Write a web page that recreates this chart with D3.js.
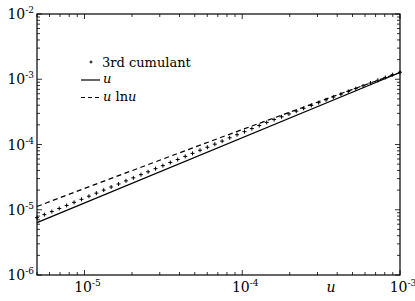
<!doctype html>
<html lang="en">
  <head>
    <meta charset="utf-8">
    <title>cumulant</title>
    <script src="https://d3js.org/d3.v7.min.js"></script>
    <style>
      body { margin: 0; background: white; }
      text { font-family: "DejaVu Serif", "Liberation Serif", serif; fill: black; }
    </style>
  </head>
  <body>
    <svg></svg>
    <script>
      // values
      var uMarks = [5.00e-6, 5.57e-6, 6.21e-6, 6.92e-6, 7.71e-6, 8.59e-6, 9.57e-6, 1.067e-5, 1.189e-5, 1.324e-5,
                    1.476e-5, 1.644e-5, 1.832e-5, 2.04e-5, 2.28e-5, 2.53e-5, 2.82e-5, 3.14e-5, 3.50e-5, 3.90e-5,
                    4.35e-5, 4.84e-5, 5.40e-5, 6.01e-5, 6.70e-5, 7.46e-5, 8.32e-5, 9.27e-5, 1.033e-4, 1.151e-4,
                    1.282e-4, 1.429e-4, 1.592e-4, 1.774e-4, 1.977e-4, 2.20e-4, 2.45e-4, 2.74e-4, 3.05e-4, 3.40e-4,
                    3.78e-4, 4.22e-4, 4.70e-4, 5.24e-4, 5.83e-4, 6.50e-4, 7.24e-4, 8.07e-4, 8.98e-4, 1.0e-3];
      var cumulant3 = [7.56e-6, 8.42e-6, 9.38e-6, 1.046e-5, 1.165e-5, 1.298e-5, 1.446e-5, 1.612e-5, 1.797e-5, 2.00e-5,
                       2.23e-5, 2.48e-5, 2.77e-5, 3.08e-5, 3.45e-5, 3.82e-5, 4.26e-5, 4.74e-5, 5.29e-5, 5.89e-5,
                       6.57e-5, 7.31e-5, 8.16e-5, 9.08e-5, 1.012e-4, 1.127e-4, 1.268e-4, 1.413e-4, 1.574e-4, 1.754e-4,
                       1.954e-4, 2.18e-4, 2.41e-4, 2.66e-4, 2.94e-4, 3.24e-4, 3.58e-4, 3.97e-4, 4.38e-4, 4.84e-4,
                       5.33e-4, 5.90e-4, 6.51e-4, 7.19e-4, 7.92e-4, 8.75e-4, 9.65e-4, 1.066e-3, 1.175e-3, 1.283e-3];

      var uLine = [5e-6, 1e-3];
      var uVals = [6.35e-6, 1.27e-3];

      var uLnLine = [5e-6, 1e-5, 2e-5, 5e-5, 1e-4, 2e-4, 5e-4, 1e-3];
      var uLnVals = [1.123e-5, 2.12e-5, 3.98e-5, 9.11e-5, 1.695e-4, 3.13e-4, 6.99e-4, 1.271e-3];

      var xLabels = [1e-5, 1e-4, 1e-3];
      var yLabels = [1e-6, 1e-5, 1e-4, 1e-3, 1e-2];

      var W = 415, H = 301;
      var pLeft = 37, pRight = 400, pTop = 14, pBottom = 275;

      var svg = d3.select("svg").attr("width", W).attr("height", H);

      var x = d3.scaleLog().domain([5e-6, 1e-3]).range([pLeft, pRight]);
      var y = d3.scaleLog().domain([1e-6, 1e-2]).range([pBottom, pTop]);

      function isMajor(v) {
        return Math.abs(Math.log10(v) - Math.round(Math.log10(v))) < 1e-6;
      }

      // ticks on all four sides, pointing in
      var tk = svg.append("g").attr("stroke", "black").attr("stroke-width", 0.8);
      x.ticks().forEach(function(v) {
        var len = isMajor(v) ? 5 : 3;
        var px = x(v);
        tk.append("line").attr("x1", px).attr("x2", px).attr("y1", pBottom).attr("y2", pBottom - len);
        tk.append("line").attr("x1", px).attr("x2", px).attr("y1", pTop).attr("y2", pTop + len);
      });
      y.ticks().forEach(function(v) {
        var len = isMajor(v) ? 5 : 3;
        var py = y(v);
        tk.append("line").attr("y1", py).attr("y2", py).attr("x1", pLeft).attr("x2", pLeft + len);
        tk.append("line").attr("y1", py).attr("y2", py).attr("x1", pRight).attr("x2", pRight - len);
      });

      svg.append("rect")
        .attr("x", pLeft).attr("y", pTop)
        .attr("width", pRight - pLeft).attr("height", pBottom - pTop)
        .attr("fill", "none").attr("stroke", "black").attr("stroke-width", 1.2);

      function powLabel(g, v, anchor) {
        var t = g.append("text").attr("text-anchor", anchor).attr("font-size", 14);
        t.append("tspan").text("10");
        t.append("tspan").attr("dy", -6).attr("font-size", 9).text(String(Math.round(Math.log10(v))));
        return t;
      }

      yLabels.forEach(function(v) {
        var g = svg.append("g").attr("transform", "translate(" + (pLeft - 3) + "," + (y(v) + 5) + ")");
        powLabel(g, v, "end");
      });
      xLabels.forEach(function(v) {
        var g = svg.append("g").attr("transform", "translate(" + (x(v) + 3) + "," + (pBottom + 17) + ")");
        powLabel(g, v, "middle");
      });

      svg.append("text")
        .attr("x", 331).attr("y", pBottom + 17)
        .attr("font-size", 14).attr("font-style", "italic")
        .attr("text-anchor", "middle")
        .text("u");

      var line = d3.line()
        .x(function(d) { return x(d[0]); })
        .y(function(d) { return y(d[1]); });

      var plot = svg.append("g");

      plot.append("path")
        .attr("d", line(d3.zip(uLine, uVals)))
        .attr("fill", "none").attr("stroke", "black").attr("stroke-width", 1.2);

      plot.append("path")
        .attr("d", line(d3.zip(uLnLine, uLnVals)))
        .attr("fill", "none").attr("stroke", "black").attr("stroke-width", 1.2)
        .attr("stroke-dasharray", "5,3.5");

      plot.selectAll(".mk").data(d3.zip(uMarks, cumulant3)).enter()
        .append("path")
        .attr("class", "mk")
        .attr("d", "M-2,0H2M0,-2V2")
        .attr("stroke", "black").attr("stroke-width", 1)
        .attr("transform", function(d) { return "translate(" + x(d[0]) + "," + y(d[1]) + ")"; });

      // legend
      var lg = svg.append("g");
      lg.append("path").attr("d", "M-1.5,0H1.5M0,-1.5V1.5")
        .attr("stroke", "black").attr("stroke-width", 1)
        .attr("transform", "translate(91,62)");
      lg.append("text").attr("x", 102).attr("y", 67).attr("font-size", 13).text("3rd cumulant");

      lg.append("line").attr("x1", 81).attr("x2", 100).attr("y1", 80).attr("y2", 80)
        .attr("stroke", "black").attr("stroke-width", 1.2);
      lg.append("text").attr("x", 103).attr("y", 83).attr("font-size", 13).attr("font-style", "italic").text("u");

      lg.append("line").attr("x1", 81).attr("x2", 100).attr("y1", 97.5).attr("y2", 97.5)
        .attr("stroke", "black").attr("stroke-width", 1.2)
        .attr("stroke-dasharray", "4,3");
      var t3 = lg.append("text").attr("x", 103).attr("y", 101).attr("font-size", 13);
      t3.append("tspan").attr("font-style", "italic").text("u");
      t3.append("tspan").text(" ln");
      t3.append("tspan").attr("font-style", "italic").text("u");
    </script>
  </body>
</html>
